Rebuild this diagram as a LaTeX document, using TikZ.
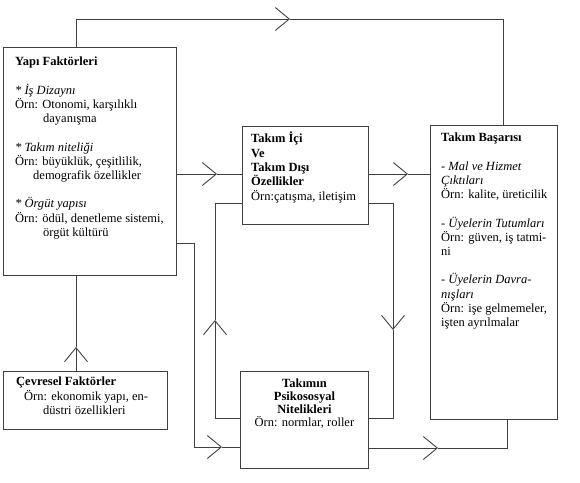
\documentclass[tikz,border=0pt]{standalone}
\usepackage{fontspec}
\setmainfont{LiberationSerif}[Extension=.ttf, UprightFont=*-Regular, BoldFont=*-Bold, ItalicFont=*-Italic, BoldItalicFont=*-BoldItalic]
\usetikzlibrary{positioning,arrows.meta}

\begin{document}
\begin{tikzpicture}[x=1pt, y=-1pt,
	box/.style={draw=black!75, line width=0.9pt, anchor=north west, inner sep=0pt},
	txt/.style={inner sep=0pt, align=left, font=\fontsize{12.5}{14.3}\selectfont},
	link/.style={draw=black!75, line width=0.9pt},
	tip/.style={link, -{Straight Barb[length=14pt, width=23pt]}}]
	\useasboundingbox (0,0) rectangle (580,482);
	% boxes
	\node[box, minimum width=173pt, minimum height=228pt] (yapi) at (3,47) {};
	\node[box, minimum width=126pt, minimum height=98pt] (ic) at (242,126) {};
	\node[box, minimum width=127pt, minimum height=294pt] (basari) at (430,125) {};
	\node[box, minimum width=164pt, minimum height=58pt] (cevre) at (3,371) {};
	\node[box, minimum width=128pt, minimum height=97pt] (psiko) at (240,371) {};
	% texts
	\node[txt, below right=10pt and 12pt of yapi.north west] (yapitxt) {%
		\textbf{Yapı Faktörleri}\\[14pt]
		\textit{* İş Dizaynı}\\
		Örn: Otonomi, karşılıklı\\
		\hspace*{28pt}dayanışma\\[14pt]
		\textit{* Takım niteliği}\\
		Örn: büyüklük, çeşitlilik,\\
		\hspace*{18pt}demografik özellikler\\[14pt]
		\textit{* Örgüt yapısı}\\
		Örn: ödül, denetleme sistemi,\\
		\hspace*{28pt}örgüt kültürü};
	\node[txt, below right=6pt and 9pt of ic.north west] (ictxt) {%
		\textbf{Takım İçi}\\
		\textbf{Ve}\\
		\textbf{Takım Dışı}\\
		\textbf{Özellikler}\\
		Örn:çatışma, iletişim};
	\node[txt, below right=8pt and 11pt of basari.north west] (basaritxt) {%
		\textbf{Takım Başarısı}\\[14pt]
		\textit{- Mal ve Hizmet}\\
		\textit{Çıktıları}\\
		Örn: kalite, üreticilik\\[14pt]
		\textit{- Üyelerin Tutumları}\\
		Örn: güven, iş tatmi-\\
		ni\\[14pt]
		\textit{- Üyelerin Davra-}\\
		\textit{nışları}\\
		Örn: işe gelmemeler,\\
		işten ayrılmalar};
	\node[txt, below right=6pt and 13pt of cevre.north west] (cevretxt) {%
		\textbf{Çevresel Faktörler}\\
		\hspace*{8pt}Örn: ekonomik yapı, en-\\
		\hspace*{27pt}düstri özellikleri};
	\node[txt, align=center, font=\fontsize{12.5}{13}\selectfont, below=8pt of psiko.north] (psikotxt) {%
		\textbf{Takımın}\\
		\textbf{Psikososyal}\\
		\textbf{Nitelikleri}\\
		Örn: normlar, roller};
	% connectors
	\coordinate (topL) at (76,19);
	\coordinate (topA) at (290,19);
	\coordinate (topR) at (503,19);
	\draw[tip] (yapi.north -| topL) |- (topA);
	\draw[link] (topA) -| (basari.north -| topR);
	\coordinate (a1) at (217,174);
	\draw[tip] (yapi.east |- a1) -- (a1);
	\draw[link] (a1) -- (ic.west |- a1);
	\coordinate (a2) at (408,174);
	\draw[tip] (ic.east |- a2) -- (a2);
	\draw[link] (a2) -- (basari.west |- a2);
	\coordinate (r1) at (393,203);
	\coordinate (a3) at (393,330);
	\coordinate (r2) at (393,418);
	\draw[tip] (ic.east |- r1) -- (r1) -- (a3);
	\draw[link] (a3) -- (r2) -- (psiko.east |- r2);
	\coordinate (l1) at (215,418);
	\coordinate (a4) at (215,320);
	\coordinate (l2) at (215,203);
	\draw[tip] (psiko.west |- l1) -- (l1) -- (a4);
	\draw[link] (a4) -- (l2) -- (ic.west |- l2);
	\coordinate (s1) at (194,243);
	\coordinate (s2) at (194,447);
	\coordinate (a5) at (222,447);
	\draw[tip] (yapi.east |- s1) -- (s1) -- (s2) -- (a5);
	\draw[link] (a5) -- (psiko.west |- a5);
	\coordinate (a6) at (438,448);
	\coordinate (b1) at (507,448);
	\draw[tip] (psiko.east |- a6) -- (a6);
	\draw[link] (a6) -- (b1) -- (basari.south -| b1);
	\coordinate (a7) at (76,347);
	\draw[tip] (cevre.north -| a7) -- (a7);
	\draw[link] (a7) -- (yapi.south -| a7);
\end{tikzpicture}
\end{document}
